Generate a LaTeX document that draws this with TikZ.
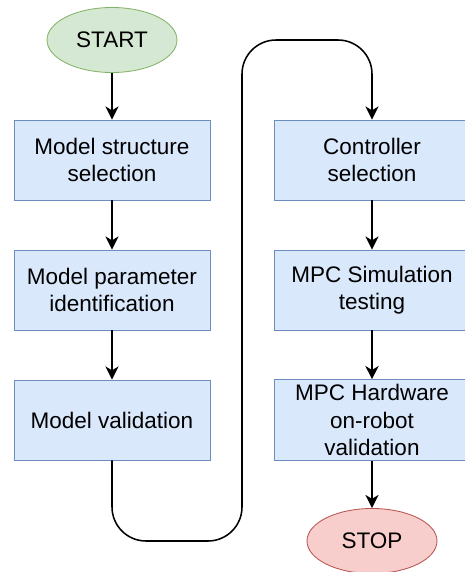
\documentclass[tikz,border=0pt]{standalone}
\usepackage{fontspec}
\setmainfont{Liberation Sans}
\usepackage[dvipsnames]{xcolor}
\usetikzlibrary{positioning, shapes.geometric, arrows.meta}

\definecolor{boxfill}{HTML}{DAE8FC}
\definecolor{boxline}{HTML}{6C8EBF}
\definecolor{startfill}{HTML}{D5E8D4}
\definecolor{startline}{HTML}{82B366}
\definecolor{stopfill}{HTML}{F8CECC}
\definecolor{stopline}{HTML}{B85450}

\begin{document}
\begin{tikzpicture}[x=0.025cm, y=-0.025cm]
  % 定义样式
  \tikzset{stepbox/.style = {rectangle, draw=boxline, fill=boxfill, line width=0.6pt,
      minimum width=4.9cm, minimum height=2cm, align=center,
      font=\fontsize{16}{19.5}\selectfont}}
  \tikzset{terminal/.style = {ellipse, draw, line width=0.6pt, minimum width=3.25cm,
      minimum height=1.625cm, inner sep=0pt, font=\fontsize{16}{19.5}\selectfont}}
  \tikzset{flow/.style = {draw, line width=1.1pt,
      -{Stealth[length=0.33cm, width=0.33cm, inset=0.1cm]}}}

  \useasboundingbox (0,0) rectangle (465,572);

  % 定义点
  \node[terminal, draw=startline, fill=startfill] (start) at (112,40) {START};
  \node[stepbox] (mstruct) at (112,160) {Model structure\\selection};
  \node[stepbox] (mparam)  at (112,290) {Model parameter\\identification};
  \node[stepbox] (mvalid)  at (112,420) {Model validation};
  \node[stepbox] (csel)    at (372,160) {Controller\\selection};
  \node[stepbox] (msim)    at (372,290) {MPC Simulation\\testing};
  \node[stepbox] (mhw)     at (372,420) {MPC Hardware\\on-robot\\validation};
  \node[terminal, draw=stopline, fill=stopfill] (stop) at (372,541) {STOP};

  \coordinate (loopbot) at (242,541);
  \coordinate (looptop) at (242,40);

  % 定义边
  \draw[flow] (start) -- (mstruct);
  \draw[flow] (mstruct) -- (mparam);
  \draw[flow] (mparam) -- (mvalid);
  \draw[flow, rounded corners=0.85cm] (mvalid.south) |- (loopbot) -- (looptop) -| (csel.north);
  \draw[flow] (csel) -- (msim);
  \draw[flow] (msim) -- (mhw);
  \draw[flow] (mhw) -- (stop);
\end{tikzpicture}
\end{document}
